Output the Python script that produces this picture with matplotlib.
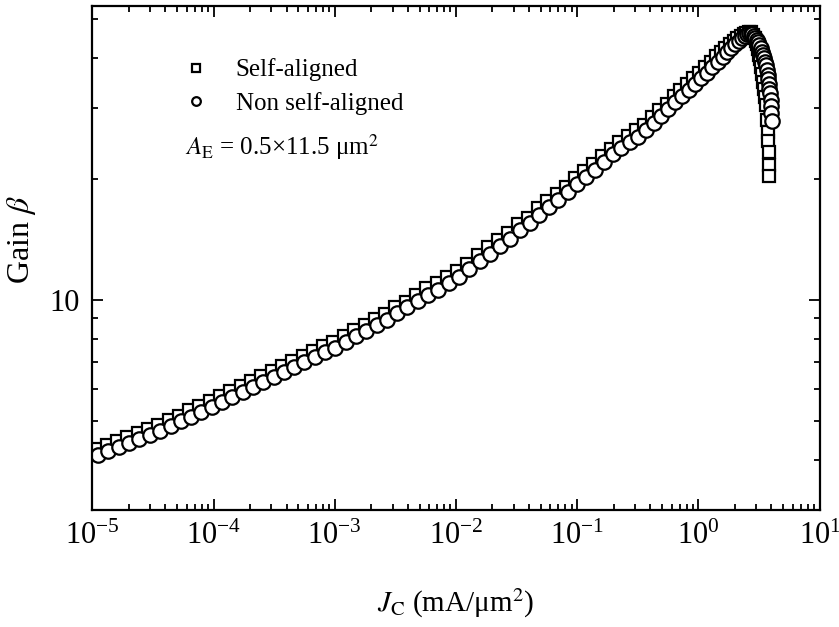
import matplotlib
matplotlib.use("Agg")
import matplotlib.pyplot as plt
from matplotlib.ticker import LogLocator, NullFormatter, FixedLocator, FixedFormatter

plt.rcParams["font.family"] = ["Liberation Serif", "DejaVu Serif"]
plt.rcParams["mathtext.fontset"] = "stix"
plt.rcParams["font.size"] = 22

# Non self-aligned device: collector current density (mA/um^2) and current gain
jc_non = [
    1.12e-5, 1.36e-5, 1.66e-5, 2.02e-5, 2.45e-5, 2.99e-5, 3.63e-5, 4.42e-5, 5.37e-5, 6.53e-5,
    7.94e-5, 9.66e-5, 1.17e-4, 1.43e-4, 1.74e-4, 2.11e-4, 2.57e-4, 3.13e-4, 3.80e-4, 4.62e-4,
    5.62e-4, 6.84e-4, 8.32e-4, 1.01e-3, 1.23e-3, 1.50e-3, 1.82e-3, 2.21e-3, 2.69e-3, 3.27e-3,
    3.98e-3, 4.84e-3, 5.89e-3, 7.16e-3, 8.71e-3, 1.06e-2, 1.29e-2, 1.57e-2, 1.91e-2, 2.31e-2,
    2.79e-2, 3.37e-2, 4.06e-2, 4.88e-2, 5.85e-2, 7.00e-2, 8.36e-2, 9.95e-2, 0.118, 0.140,
    0.166, 0.196, 0.231, 0.270, 0.316, 0.368, 0.427, 0.492, 0.565, 0.646,
    0.735, 0.832, 0.938, 1.05, 1.17, 1.30, 1.44, 1.58, 1.72, 1.86,
    2.00, 2.14, 2.28, 2.40, 2.51, 2.61, 2.70, 2.79, 2.87, 2.95,
    3.03, 3.10, 3.18, 3.25, 3.32, 3.39, 3.46, 3.52, 3.59, 3.66,
    3.72, 3.77, 3.81, 3.85, 3.89, 3.93, 3.96, 3.99, 4.02,
]
beta_non = [
    4.10, 4.20, 4.30, 4.40, 4.50, 4.60, 4.72, 4.85, 4.98, 5.12,
    5.25, 5.40, 5.56, 5.71, 5.89, 6.07, 6.25, 6.43, 6.61, 6.79,
    7.00, 7.19, 7.40, 7.60, 7.85, 8.11, 8.38, 8.65, 8.93, 9.25,
    9.57, 9.91, 10.3, 10.6, 11.0, 11.4, 11.9, 12.5, 13.0, 13.6,
    14.2, 14.9, 15.5, 16.3, 17.0, 17.7, 18.5, 19.4, 20.2, 21.1,
    22.0, 23.0, 23.9, 24.7, 25.5, 26.4, 27.5, 28.6, 29.8, 31.0,
    32.1, 33.3, 34.5, 35.6, 36.8, 38.0, 39.2, 40.3, 41.3, 42.3,
    43.3, 44.2, 44.9, 45.4, 45.8, 46.1, 46.2, 46.0, 45.5, 44.9,
    44.3, 43.8, 43.1, 42.3, 41.5, 40.8, 39.9, 39.2, 38.4, 37.3,
    36.3, 35.4, 34.4, 33.5, 32.7, 31.5, 30.3, 29.1, 27.9,
]

# Self-aligned device
jc_self = [
    1.08e-5, 1.31e-5, 1.60e-5, 1.95e-5, 2.36e-5, 2.89e-5, 3.50e-5, 4.27e-5, 5.18e-5, 6.30e-5,
    7.66e-5, 9.32e-5, 1.13e-4, 1.38e-4, 1.68e-4, 2.04e-4, 2.48e-4, 3.02e-4, 3.67e-4, 4.46e-4,
    5.42e-4, 6.60e-4, 8.03e-4, 9.75e-4, 1.19e-3, 1.45e-3, 1.76e-3, 2.13e-3, 2.60e-3, 3.16e-3,
    3.84e-3, 4.67e-3, 5.68e-3, 6.91e-3, 8.41e-3, 1.02e-2, 1.24e-2, 1.52e-2, 1.84e-2, 2.23e-2,
    2.69e-2, 3.25e-2, 3.92e-2, 4.71e-2, 5.65e-2, 6.76e-2, 8.07e-2, 9.60e-2, 0.114, 0.135,
    0.160, 0.189, 0.223, 0.261, 0.305, 0.355, 0.412, 0.475, 0.545, 0.623,
    0.709, 0.803, 0.905, 1.01, 1.13, 1.26, 1.39, 1.53, 1.67, 1.81,
    1.95, 2.09, 2.23, 2.36, 2.48, 2.59, 2.69, 2.83, 2.90, 2.97,
    3.03, 3.10, 3.16, 3.21, 3.28, 3.34, 3.40, 3.47, 3.54, 3.61,
    3.67, 3.74, 3.78, 3.82, 3.83, 3.83,
]
beta_self = [
    4.24, 4.35, 4.45, 4.55, 4.66, 4.76, 4.89, 5.02, 5.15, 5.30,
    5.43, 5.59, 5.75, 5.91, 6.10, 6.28, 6.47, 6.66, 6.84, 7.03,
    7.25, 7.44, 7.66, 7.87, 8.12, 8.39, 8.67, 8.95, 9.24, 9.57,
    9.90, 10.3, 10.7, 11.0, 11.4, 11.8, 12.3, 12.9, 13.5, 14.1,
    14.7, 15.4, 16.0, 16.9, 17.6, 18.3, 19.1, 20.1, 20.9, 21.8,
    22.8, 23.8, 24.7, 25.6, 26.4, 27.3, 28.5, 29.6, 30.8, 32.1,
    33.2, 34.4, 35.6, 36.8, 38.0, 39.2, 40.4, 41.5, 42.4, 43.3,
    44.2, 44.9, 45.4, 45.8, 46.1, 46.3, 46.3, 45.7, 44.9, 44.0,
    43.3, 42.1, 40.8, 39.7, 38.0, 36.4, 34.9, 33.4, 32.0, 30.6,
    28.1, 26.2, 24.8, 23.3, 21.7, 20.3,
]

fig = plt.figure(figsize=(8.39, 6.27), dpi=100)
ax = fig.add_axes([0.110, 0.187, 0.867, 0.804])

# squares go underneath, circles drawn over them
ax.plot(jc_self, beta_self, linestyle="none", marker="s", markersize=9.2,
        markerfacecolor="white", markeredgecolor="black", markeredgewidth=1.6,
        label="Self-aligned")
ax.plot(jc_non, beta_non, linestyle="none", marker="o", markersize=10.4,
        markerfacecolor="white", markeredgecolor="black", markeredgewidth=1.6,
        label="Non self-aligned")

ax.set_xscale("log")
ax.set_yscale("log")
ax.set_xlim(1e-5, 1e1)
ax.set_ylim(3, 54)

ax.xaxis.set_major_locator(LogLocator(base=10, numticks=10))
ax.xaxis.set_minor_locator(LogLocator(base=10, subs=range(2, 10), numticks=100))
ax.xaxis.set_minor_formatter(NullFormatter())
ax.yaxis.set_major_locator(FixedLocator([10]))
ax.yaxis.set_major_formatter(FixedFormatter(["10"]))
ax.yaxis.set_minor_locator(LogLocator(base=10, subs=range(2, 10), numticks=100))
ax.yaxis.set_minor_formatter(NullFormatter())

ax.tick_params(which="both", direction="in", top=True, right=True, width=1.3)
ax.tick_params(which="major", length=8, pad=9)
ax.tick_params(which="minor", length=4)
for side in ax.spines.values():
    side.set_linewidth(1.6)

ax.set_xlabel(r"$J_\mathrm{C}$ (mA/μm$^2$)", fontsize=21, labelpad=25)
ax.set_ylabel(r"Gain $\beta$", fontsize=23)
ax.yaxis.set_label_coords(-0.075, 0.535)

ax.legend(loc="upper left", bbox_to_anchor=(0.094, 0.94), frameon=False,
          markerscale=0.6, handlelength=1.0, handletextpad=1.1,
          labelspacing=0.42, fontsize=18)
ax.text(0.127, 0.72, r"$A_\mathrm{E}$ = 0.5×11.5 μm$^2$", transform=ax.transAxes,
        fontsize=18, va="center", ha="left")

fig.savefig("out.png", dpi=100)
